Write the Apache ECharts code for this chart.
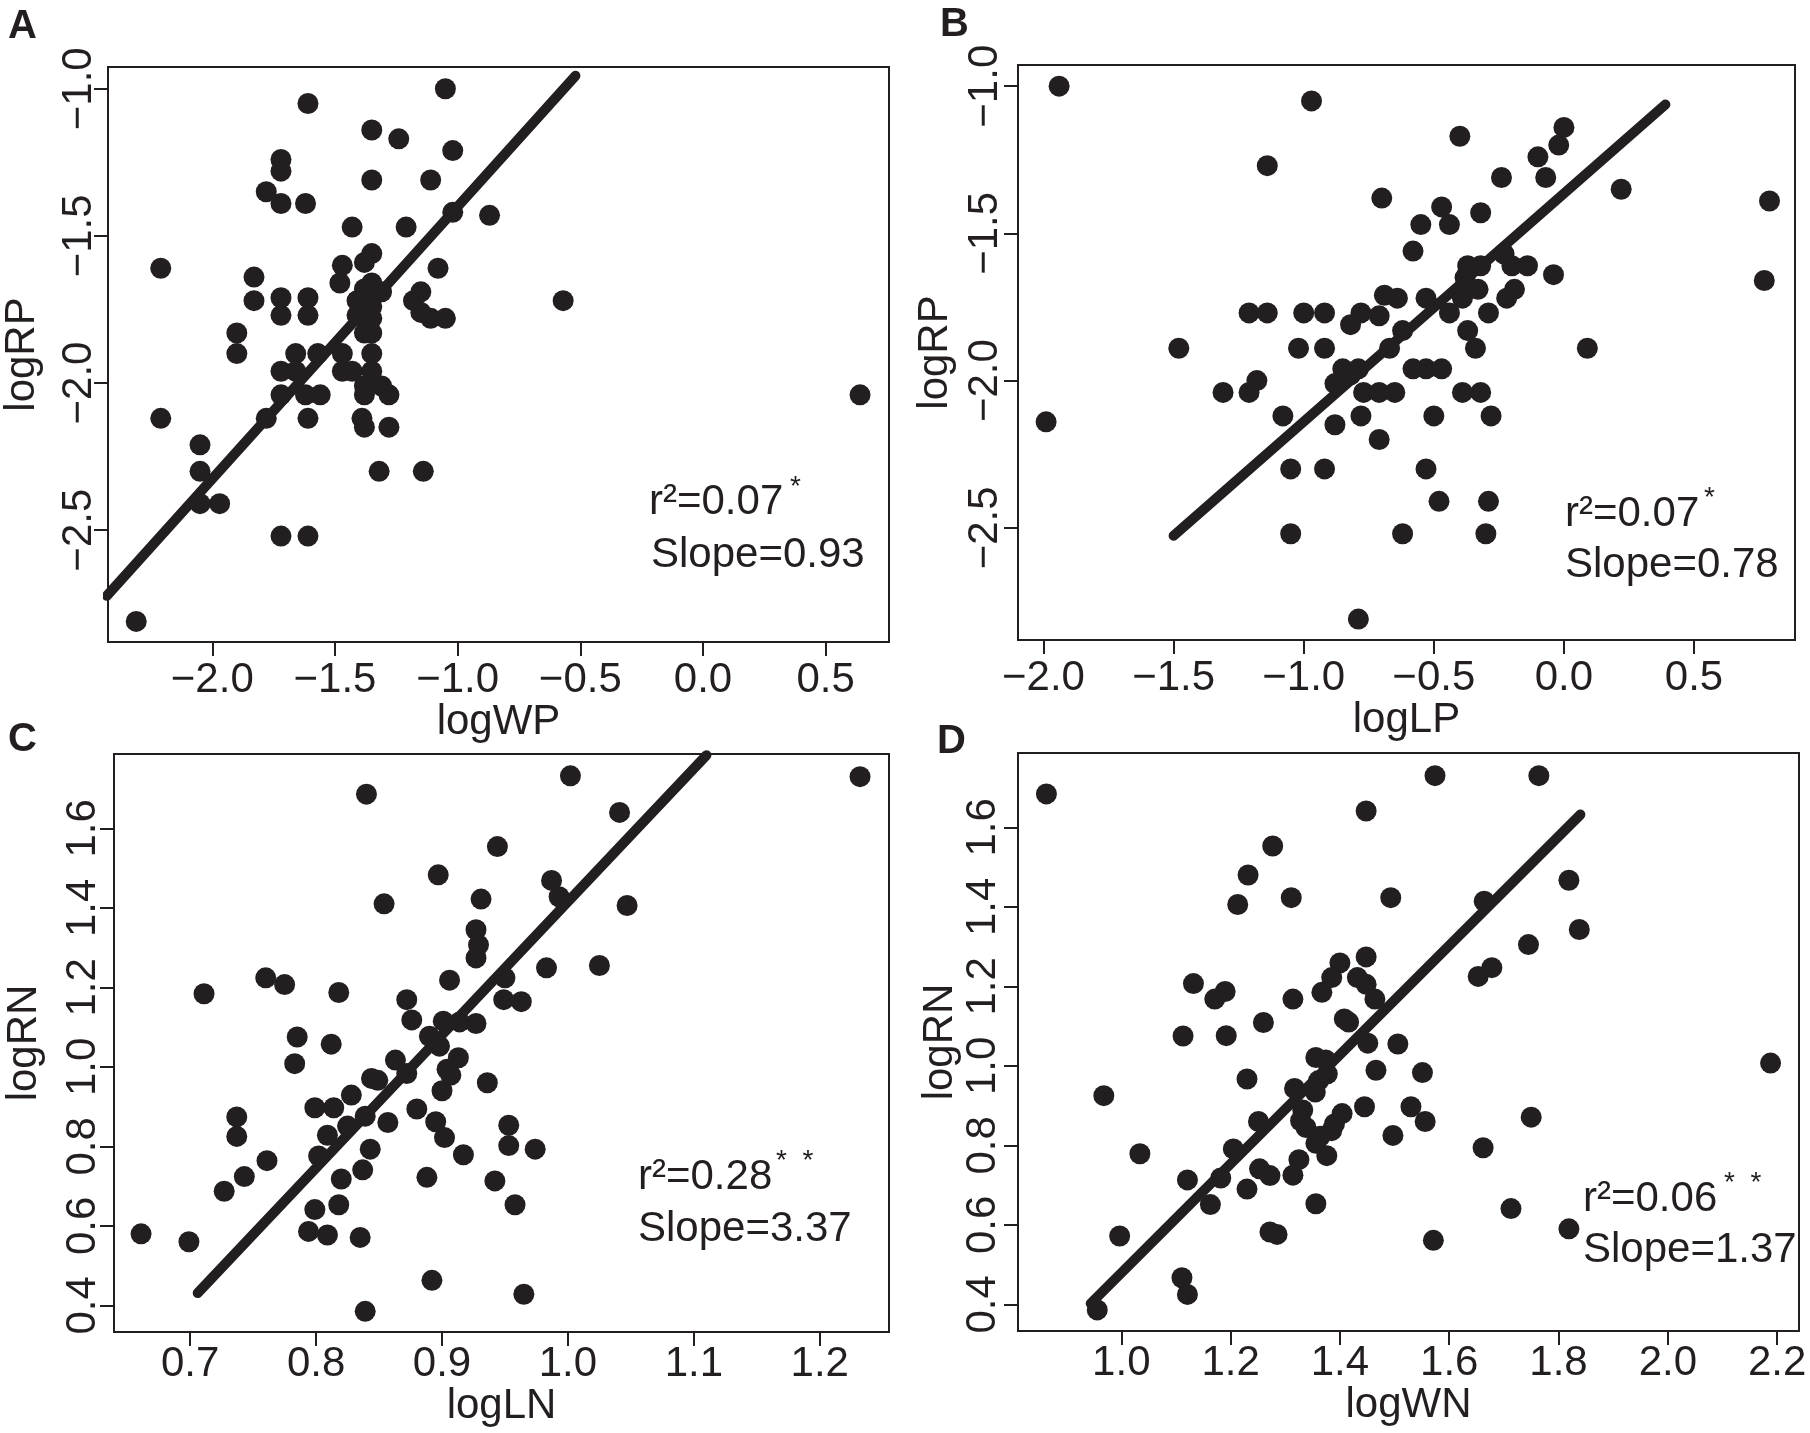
<!DOCTYPE html>
<html>
<head>
<meta charset="utf-8">
<title>logRP / logRN scatter</title>
<script src="https://cdn.jsdelivr.net/npm/echarts@6/dist/echarts.min.js"></script>
<style>
  html, body { margin: 0; padding: 0; background: #fff; }
  #chart { width: 1810px; height: 1433px; }
</style>
</head>
<body>
<div id="chart"></div>
<script>
// ---- data ----
// panel A : logWP vs logRP
var logWP_A = [-1.05,-1.61,-1.35,-1.24,-1.02,-1.72,-1.72,-1.35,-1.11,-1.78,
  -1.72,-1.62,-1.02,-0.87,-1.43,-1.21,-1.35,-1.38,-1.47,-2.21,
  -1.08,-1.83,-1.48,-1.35,-1.38,-1.31,-1.15,-1.72,-1.61,-1.83,
  -1.41,-0.57,-1.18,-1.35,-1.72,-1.61,-1.41,-1.35,-1.15,-1.11,
  -1.05,-1.90,-1.38,-1.35,-1.90,-1.66,-1.57,-1.47,-1.35,-1.72,
  -1.66,-1.47,-1.43,-1.35,-1.38,-1.31,-1.72,-1.62,-1.56,-1.38,
  -1.28,0.64,-2.21,-1.78,-1.61,-1.39,-1.38,-1.28,-2.05,-2.05,
  -1.32,-1.14,-2.05,-1.97,-1.72,-1.61,-2.31];
var logRP_A = [-1.00,-1.05,-1.14,-1.17,-1.21,-1.24,-1.28,-1.31,-1.31,-1.35,
  -1.39,-1.39,-1.42,-1.43,-1.47,-1.47,-1.56,-1.59,-1.60,-1.61,
  -1.61,-1.64,-1.66,-1.66,-1.68,-1.69,-1.69,-1.71,-1.71,-1.72,
  -1.72,-1.72,-1.72,-1.74,-1.77,-1.77,-1.77,-1.78,-1.76,-1.78,
  -1.78,-1.83,-1.83,-1.83,-1.90,-1.90,-1.90,-1.90,-1.90,-1.96,
  -1.96,-1.96,-1.96,-1.96,-2.01,-2.01,-2.04,-2.04,-2.04,-2.04,
  -2.04,-2.04,-2.12,-2.12,-2.12,-2.12,-2.15,-2.15,-2.21,-2.30,
  -2.30,-2.30,-2.41,-2.41,-2.52,-2.52,-2.81];
var fitA_x = [-2.43, -0.52];
var fitA_y = [-2.723, -0.956];

// panel B : logLP vs logRP
var logLP_B = [-1.94,-0.97,0.00,-0.40,-0.02,-0.10,-1.14,-0.07,-0.24,0.22,
  -0.70,0.79,-0.47,-0.32,-0.44,-0.55,-0.58,-0.23,-0.37,-0.32,
  -0.20,-0.14,-0.04,0.77,-0.38,-0.37,-0.33,-0.19,-0.69,-0.64,
  -0.53,-0.22,-0.39,-1.21,-1.14,-1.00,-0.92,-0.78,-0.29,-0.44,
  -0.71,-0.82,-0.62,-0.37,-1.48,-1.02,-0.92,-0.67,-0.34,0.09,
  -0.85,-0.79,-0.58,-0.53,-0.47,-1.18,-0.88,-0.82,-1.31,-1.21,
  -0.77,-0.71,-0.65,-0.39,-0.32,-1.08,-0.78,-0.50,-0.28,-1.99,
  -0.88,-0.71,-1.05,-0.92,-0.53,-0.48,-0.29,-1.05,-0.62,-0.30,
  -0.79];
var logRP_B = [-1.00,-1.05,-1.14,-1.17,-1.20,-1.24,-1.27,-1.31,-1.31,-1.35,
  -1.38,-1.39,-1.41,-1.43,-1.47,-1.47,-1.56,-1.57,-1.61,-1.61,
  -1.61,-1.61,-1.64,-1.66,-1.65,-1.68,-1.69,-1.69,-1.71,-1.72,
  -1.72,-1.72,-1.72,-1.77,-1.77,-1.77,-1.77,-1.77,-1.77,-1.77,
  -1.78,-1.81,-1.83,-1.83,-1.89,-1.89,-1.89,-1.89,-1.89,-1.89,
  -1.96,-1.96,-1.96,-1.96,-1.96,-2.00,-2.01,-1.98,-2.04,-2.04,
  -2.04,-2.04,-2.04,-2.04,-2.04,-2.12,-2.12,-2.12,-2.12,-2.14,
  -2.15,-2.20,-2.30,-2.30,-2.30,-2.41,-2.41,-2.52,-2.52,-2.52,
  -2.81];
var fitB_x = [-1.50, 0.39];
var fitB_y = [-2.527, -1.062];

// panel C : logLN vs logRN
var logLN_C = [1.232,1.002,0.840,1.041,0.944,0.897,0.987,0.993,0.931,0.854,
  1.047,0.927,0.929,0.927,1.025,0.983,0.760,0.950,0.775,0.906,
  0.711,0.818,0.872,0.949,0.963,0.876,0.901,0.914,0.927,0.785,
  0.890,0.812,0.898,0.913,0.783,0.863,0.872,0.904,0.844,0.849,
  0.907,0.936,0.900,0.828,0.799,0.814,0.880,0.839,0.737,0.857,
  0.895,0.953,0.825,0.737,0.809,0.902,0.843,0.974,0.953,0.802,
  0.917,0.761,0.837,0.743,0.888,0.820,0.942,0.727,0.818,0.958,
  0.799,0.794,0.809,0.835,0.661,0.699,0.892,0.965,0.839];
var logRN_C = [1.730,1.732,1.686,1.640,1.554,1.483,1.469,1.428,1.422,1.410,
  1.406,1.345,1.307,1.274,1.255,1.249,1.224,1.224,1.207,1.218,
  1.184,1.187,1.169,1.169,1.164,1.118,1.115,1.113,1.109,1.075,
  1.077,1.057,1.052,1.023,1.008,1.017,0.983,0.994,0.971,0.966,
  0.979,0.960,0.940,0.929,0.897,0.897,0.894,0.876,0.874,0.860,
  0.862,0.853,0.851,0.825,0.828,0.822,0.793,0.793,0.802,0.776,
  0.779,0.764,0.741,0.724,0.722,0.718,0.713,0.687,0.653,0.653,
  0.641,0.586,0.577,0.571,0.580,0.560,0.463,0.428,0.385];
var fitC_x = [0.706, 1.110];
var fitC_y = [0.431, 1.784];

// panel D : logWN vs logRN
var logWN_D = [0.863,1.574,1.764,1.448,1.277,1.232,1.311,1.493,1.213,1.664,
  1.819,1.838,1.745,1.448,1.400,1.385,1.432,1.448,1.653,1.678,
  1.132,1.190,1.171,1.367,1.314,1.464,1.408,1.416,1.260,1.113,
  1.192,1.451,1.506,1.356,1.374,2.188,1.466,1.551,1.377,1.230,
  1.361,1.355,1.317,0.968,1.445,1.530,1.332,1.404,1.750,1.251,
  1.556,1.328,1.390,1.338,1.385,1.497,1.364,1.356,1.205,1.662,
  1.034,1.376,1.325,1.253,1.272,1.182,1.121,1.314,1.230,1.163,
  1.356,1.713,1.819,0.997,1.272,1.285,1.571,1.111,1.121,0.956];
var logRN_D = [1.684,1.730,1.730,1.641,1.553,1.480,1.423,1.423,1.406,1.414,
  1.467,1.343,1.305,1.274,1.259,1.222,1.222,1.205,1.225,1.247,
  1.207,1.187,1.168,1.185,1.168,1.168,1.118,1.110,1.109,1.075,
  1.076,1.057,1.055,1.021,1.015,1.007,0.989,0.983,0.980,0.967,
  0.963,0.934,0.943,0.925,0.897,0.897,0.889,0.880,0.871,0.860,
  0.860,0.862,0.854,0.845,0.837,0.825,0.823,0.805,0.791,0.794,
  0.779,0.774,0.764,0.741,0.724,0.718,0.713,0.725,0.690,0.651,
  0.653,0.641,0.590,0.572,0.582,0.576,0.561,0.467,0.425,0.386];
var fitD_x = [0.944, 1.840];
var fitD_y = [0.402, 1.632];

// tick values
var ticksP_x = [-2.0, -1.5, -1.0, -0.5, 0.0, 0.5];
var ticksRP_y = [-2.5, -2.0, -1.5, -1.0];
var ticksLN_x = [0.7, 0.8, 0.9, 1.0, 1.1, 1.2];
var ticksWN_x = [1.0, 1.2, 1.4, 1.6, 1.8, 2.0, 2.2];
var ticksRN_y = [0.4, 0.6, 0.8, 1.0, 1.2, 1.4, 1.6];

// ---- chart ----
var ink = '#231f20';
var font = 'Liberation Sans, Arial, Helvetica, sans-serif';
var fs = 42;

function zip(a, b) {
  var out = [];
  for (var i = 0; i < a.length; i++) out.push([a[i], b[i]]);
  return out;
}

function fmt(v) {
  return (Math.round(v * 10) / 10).toFixed(1).replace('-', '\u2212');
}

function xAxisOf(idx, name, min, max, ticks, margin, gap) {
  return {
    type: 'value', gridIndex: idx, min: min, max: max,
    name: name, nameLocation: 'middle', nameGap: gap,
    nameTextStyle: { fontSize: fs, fontFamily: font, color: ink },
    axisLine: { show: false, onZero: false },
    splitLine: { show: false },
    axisTick: { show: true, inside: false, length: 14, customValues: ticks,
      lineStyle: { color: ink, width: 2 } },
    axisLabel: { show: true, margin: margin, customValues: ticks, formatter: fmt,
      fontSize: fs, fontFamily: font, color: ink }
  };
}

function yAxisOf(idx, name, min, max, ticks, gap, margin) {
  return {
    type: 'value', gridIndex: idx, min: min, max: max,
    name: name, nameLocation: 'middle', nameGap: gap, nameRotate: 90,
    nameTextStyle: { fontSize: fs, fontFamily: font, color: ink },
    axisLine: { show: false, onZero: false },
    splitLine: { show: false },
    axisTick: { show: true, inside: false, length: 14, customValues: ticks,
      lineStyle: { color: ink, width: 2 } },
    axisLabel: { show: true, rotate: 90, margin: margin, customValues: ticks, formatter: fmt,
      fontSize: fs, fontFamily: font, color: ink }
  };
}

function dots(idx, xs, ys) {
  return {
    type: 'scatter', xAxisIndex: idx, yAxisIndex: idx,
    symbol: 'circle', symbolSize: 21, silent: true,
    itemStyle: { color: ink, opacity: 1 },
    data: zip(xs, ys)
  };
}

function fit(idx, xs, ys) {
  return {
    type: 'line', xAxisIndex: idx, yAxisIndex: idx,
    showSymbol: false, silent: true, clip: true,
    lineStyle: { color: ink, width: 10, cap: 'round', opacity: 1 },
    data: zip(xs, ys), z: 3
  };
}

function label(text, x, y, size, bold) {
  return {
    type: 'text', x: x, y: y, silent: true,
    style: { text: text, fill: ink, fontSize: size, fontFamily: font,
      fontWeight: bold ? 'bold' : 'normal',
      align: 'left', verticalAlign: 'middle',
      textAlign: 'left', textVerticalAlign: 'middle' }
  };
}

var chart = echarts.init(document.getElementById('chart'), null, { renderer: 'canvas' });

var option = {
  backgroundColor: '#ffffff',
  animation: false,
  grid: [
    { left: 107, top: 67, width: 782, height: 575, show: true, borderColor: ink, borderWidth: 2, backgroundColor: 'transparent' },
    { left: 1018, top: 65, width: 777, height: 575, show: true, borderColor: ink, borderWidth: 2, backgroundColor: 'transparent' },
    { left: 114, top: 754, width: 775, height: 578, show: true, borderColor: ink, borderWidth: 2, backgroundColor: 'transparent' },
    { left: 1018, top: 753, width: 781, height: 578, show: true, borderColor: ink, borderWidth: 2, backgroundColor: 'transparent' }
  ],
  xAxis: [
    xAxisOf(0, 'logWP', -2.425, 0.758, ticksP_x, 17, 59),
    xAxisOf(1, 'logLP', -2.098, 0.888, ticksP_x, 17, 59),
    xAxisOf(2, 'logLN', 0.6395, 1.255, ticksLN_x, 11, 46),
    xAxisOf(3, 'logWN', 0.811, 2.24, ticksWN_x, 11, 46)
  ],
  yAxis: [
    yAxisOf(0, 'logRP', -2.88, -0.926, ticksRP_y, 65, 8),
    yAxisOf(1, 'logRP', -2.881, -0.928, ticksRP_y, 62, 12),
    yAxisOf(2, 'logRN', 0.333, 1.787, ticksRN_y, 69, 10),
    yAxisOf(3, 'logRN', 0.333, 1.787, ticksRN_y, 53, 14)
  ],
  series: [
    dots(0, logWP_A, logRP_A), fit(0, fitA_x, fitA_y),
    dots(1, logLP_B, logRP_B), fit(1, fitB_x, fitB_y),
    dots(2, logLN_C, logRN_C), fit(2, fitC_x, fitC_y),
    dots(3, logWN_D, logRN_D), fit(3, fitD_x, fitD_y)
  ],
  graphic: [
    label('A', 8, 27, 40, true),
    label('B', 940, 25, 40, true),
    label('C', 8, 740, 40, true),
    label('D', 937, 742, 40, true),

    label('r\u00b2=0.07', 649, 502, fs), label('*', 790, 487, 28),
    label('Slope=0.93', 651, 555, fs),
    label('r\u00b2=0.07', 1565, 514, fs), label('*', 1704, 498, 28),
    label('Slope=0.78', 1565, 565, fs),
    label('r\u00b2=0.28', 638, 1177, fs), label('*  *', 776, 1161, 28),
    label('Slope=3.37', 638, 1229, fs),
    label('r\u00b2=0.06', 1583, 1199, fs), label('*  *', 1724, 1183, 28),
    label('Slope=1.37', 1583, 1250, fs)
  ]
};

chart.setOption(option);
</script>
</body>
</html>
